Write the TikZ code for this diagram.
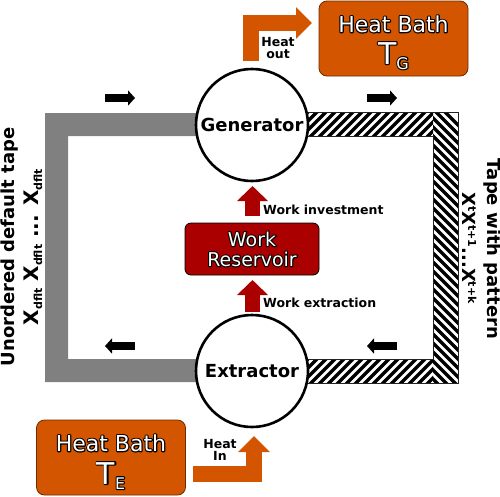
\documentclass[tikz,border=0pt]{standalone}
\usepackage{fontspec}
\setmainfont{DejaVu Sans}
\usetikzlibrary{arrows.meta}
\definecolor{bathorange}{HTML}{D45500}
\definecolor{bathedge}{HTML}{6B2A00}
\definecolor{workred}{HTML}{AA0000}
\definecolor{tapegray}{HTML}{808080}
\definecolor{tapeedge}{HTML}{222222}
\newcommand{\fs}[1]{\fontsize{#1}{#1}\selectfont}
\newcommand{\wo}[1]{\rlap{\special{pdf:code q 2 Tr 0 0 0 RG 0 0 0 rg 2.2 w 1 j}#1\special{pdf:code Q}}#1}
\tikzset{
  machine/.style={circle, draw=black, line width=2.6pt, fill=white, minimum size=112pt, inner sep=0pt, font=\bfseries\fs{18}},
  bathbox/.style={rounded corners=8pt, fill=bathorange, draw=bathedge, line width=0.8pt, minimum width=149pt, minimum height=75pt, inner sep=0pt},
  workbox/.style={rounded corners=6pt, fill=workred, draw=black, line width=0.8pt, minimum width=134pt, minimum height=52pt, inner sep=0pt},
  wtext/.style={text=white, inner sep=0pt},
  smalllab/.style={font=\bfseries\fs{12.5}, inner sep=0pt, align=center},
  orangearrow/.style={draw=bathorange, line width=16pt, line join=miter, -{Triangle[length=16pt,width=31pt]}},
  redarrow/.style={draw=workred, line width=15pt, -{Triangle[length=15pt,width=30pt]}},
  dirarrow/.style={draw=black, line width=8pt, -{Triangle[length=7pt,width=15pt]}},
  stripe/.style={line width=3.3pt, black},
}
\begin{document}
\begin{tikzpicture}[x=1pt,y=-1pt]
\useasboundingbox (0,0) rectangle (500,496);
% gray tape
\fill[tapegray] (252,113) -- (45,113) -- (45,382) -- (252,382) -- (252,359) -- (68,359) -- (68,136) -- (252,136) -- cycle;
% hatched tape
\fill[white] (252,112) -- (458,112) -- (458,383) -- (252,383) -- (252,359) -- (433,359) -- (433,136) -- (252,136) -- cycle;
\begin{scope}
  \clip (290,112) rectangle (433,136);
  \foreach \i in {0,...,20} \draw[stripe] ({280+\i*9},140) -- ++(32,-32);
\end{scope}
\begin{scope}
  \clip (290,359) rectangle (433,383);
  \foreach \i in {0,...,20} \draw[stripe] ({280+\i*9},387) -- ++(32,-32);
\end{scope}
\begin{scope}
  \clip (433,112) rectangle (458,383);
  \foreach \i in {0,...,34} \draw[stripe] (428,{95+\i*9}) -- ++(35,35);
\end{scope}
\draw[tapeedge, line width=1pt] (252,112) -- (458,112) -- (458,383) -- (252,383) -- (252,359) -- (433,359) -- (433,136) -- (252,136);
% machines
\node[machine] (gen) at (252,125) {Generator};
\node[machine] (ext) at (252,371) {Extractor};
% heat baths
\node[bathbox] (hbg) at (393.5,38.5) {};
\node[wtext, font=\fs{22}] (hbgt) at (393.5,24) {\wo{Heat Bath}};
\node[wtext, anchor=base] (hbgT) at (393.5,64) {\wo{\fs{30}T\raisebox{-5pt}{\fs{16}G}}};
\node[bathbox] (hbe) at (111,457.5) {};
\node[wtext, font=\fs{22}] (hbet) at (111,443) {\wo{Heat Bath}};
\node[wtext, anchor=base] (hbeT) at (111,484) {\wo{\fs{30}T\raisebox{-5pt}{\fs{16}E}}};
% work reservoir
\node[workbox] (wr) at (252,249) {};
\node[wtext, font=\fs{19}, align=center] (wrt) at (252,249) {\wo{Work}\\[1pt]\wo{Reservoir}};
% heat arrows
\coordinate (hoS) at (251,61);
\coordinate (hoE) at (312,23);
\draw[orangearrow] (hoS) |- (hoE);
\coordinate (hiS) at (193,474);
\coordinate (hiE) at (254,436);
\draw[orangearrow] (hiS) -| (hiE);
\node[smalllab] (hout) at (278,48) {Heat\\[-1pt]out};
\node[smalllab] (hin) at (220,450) {Heat\\[-1pt]In};
% work arrows
\coordinate (wiS) at (252.5,216);
\coordinate (wiE) at (252.5,186);
\draw[redarrow] (wiS) -- (wiE);
\coordinate (weS) at (252.5,312);
\coordinate (weE) at (252.5,280);
\draw[redarrow] (weS) -- (weE);
\node[smalllab, anchor=west] (winv) at (263,210) {Work investment};
\node[smalllab, anchor=west] (wext) at (263,303) {Work extraction};
% direction arrows
\coordinate (d1s) at (105,98); \coordinate (d1e) at (135,98);
\coordinate (d2s) at (367,98); \coordinate (d2e) at (397,98);
\coordinate (d3s) at (135,346); \coordinate (d3e) at (105,346);
\coordinate (d4s) at (397,346); \coordinate (d4e) at (367,346);
\draw[dirarrow] (d1s) -- (d1e);
\draw[dirarrow] (d2s) -- (d2e);
\draw[dirarrow] (d3s) -- (d3e);
\draw[dirarrow] (d4s) -- (d4e);
% tape labels
\node[rotate=90, anchor=base, inner sep=0pt, font=\bfseries\fs{18}] (ltape) at (14,247) {Unordered default tape};
\node[rotate=90, anchor=base, inner sep=0pt, font=\bfseries\fs{20}] (lsym) at (38,247) {X\raisebox{-4pt}{\fs{11}dflt} X\raisebox{-4pt}{\fs{11}dflt} ... X\raisebox{-4pt}{\fs{11}dflt}};
\node[rotate=-90, anchor=base, inner sep=0pt, font=\bfseries\fs{18}] (rtape) at (487,249) {Tape with pattern};
\node[rotate=-90, anchor=base, inner sep=0pt, font=\bfseries\fs{18}] (rsym) at (462,248) {X\raisebox{6pt}{\fs{11}t}X\raisebox{6pt}{\fs{11}t+1}...X\raisebox{6pt}{\fs{11}t+k}};
\end{tikzpicture}
\end{document}
